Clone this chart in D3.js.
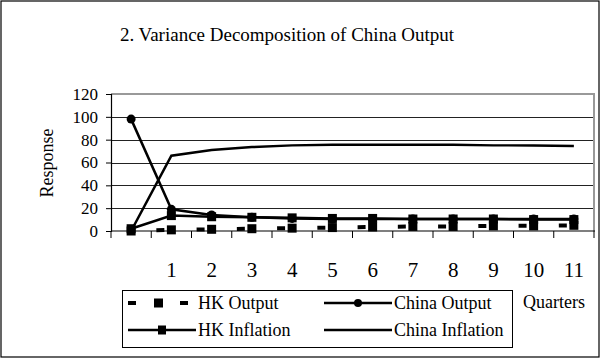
<!DOCTYPE html>
<html>
<head>
<meta charset="utf-8">
<script src="https://cdn.jsdelivr.net/npm/d3@7"></script>
<style>
  body { margin: 0; background: #fff; }
  svg { display: block; font-family: "Liberation Serif", "Times New Roman", serif; }
</style>
</head>
<body>
<div id="chart"></div>
<script>
// quarters (first category has no label)
const quarters = ['', '1', '2', '3', '4', '5', '6', '7', '8', '9', '10', '11'];
const yTicks = [0, 20, 40, 60, 80, 100, 120];

const hkOutput = [0, 1, 1.5, 2, 2.5, 3, 3.5, 4, 4, 4.5, 4.5, 5];
const chinaOutput = [98, 19, 14, 12, 11, 10.5, 10.5, 10.5, 10.5, 10.5, 10.5, 10.5];
const hkInflation = [2, 13.5, 12.5, 12, 11.5, 11, 11, 10.5, 10.5, 10.5, 10, 10];
const chinaInflation = [0, 66, 71, 73.5, 75, 75.5, 75.5, 75.5, 75.5, 75, 75, 74.5];

const W = 601, H = 358;
const plot = { left: 111, right: 594, top: 94, bottom: 231 };

const svg = d3.select('#chart').append('svg')
    .attr('width', W)
    .attr('height', H);

// outer frame
svg.append('rect')
    .attr('x', 1).attr('y', 1)
    .attr('width', W - 3).attr('height', H - 2)
    .attr('fill', '#fff')
    .attr('stroke', '#000')
    .attr('stroke-width', 1.2);

svg.append('text')
    .attr('x', 287).attr('y', 41)
    .attr('text-anchor', 'middle')
    .attr('font-size', '19px')
    .text('2. Variance Decomposition of China Output');

const x = d3.scaleBand()
    .domain(quarters.map((d, i) => i))
    .range([plot.left, plot.right]);

const y = d3.scaleLinear()
    .domain([0, 120])
    .range([plot.bottom, plot.top]);

const cx = i => x(i) + x.bandwidth() / 2;

// gridlines
svg.append('g')
    .selectAll('line')
    .data(yTicks.filter(d => d > 0 && d < 120))
    .join('line')
    .attr('x1', plot.left).attr('x2', plot.right)
    .attr('y1', d => Math.round(y(d)) + 0.5).attr('y2', d => Math.round(y(d)) + 0.5)
    .attr('stroke', '#222')
    .attr('stroke-width', 1);

// gray plot border (top and right)
svg.append('path')
    .attr('d', `M${plot.left},${plot.top} H${plot.right} V${plot.bottom}`)
    .attr('fill', 'none')
    .attr('stroke', '#999')
    .attr('stroke-width', 2);

// y axis
const yAxis = svg.append('g')
    .attr('transform', `translate(${plot.left},0)`)
    .call(d3.axisLeft(y).tickValues(yTicks).tickSize(5).tickPadding(8));
yAxis.select('.domain').attr('stroke', '#000').attr('stroke-width', 1.2);
yAxis.selectAll('.tick line').attr('stroke', '#000');
yAxis.selectAll('.tick text')
    .attr('font-family', '"Liberation Serif", serif')
    .attr('font-size', '17px')
    .attr('fill', '#000');

// x axis: ticks between categories
const xAxis = svg.append('g');
xAxis.append('line')
    .attr('x1', plot.left).attr('x2', plot.right + 1)
    .attr('y1', plot.bottom).attr('y2', plot.bottom)
    .attr('stroke', '#000').attr('stroke-width', 1.2);
xAxis.selectAll('line.tk')
    .data(d3.range(quarters.length + 1))
    .join('line')
    .attr('class', 'tk')
    .attr('x1', i => i < quarters.length ? x(i) : plot.right)
    .attr('x2', i => i < quarters.length ? x(i) : plot.right)
    .attr('y1', plot.bottom).attr('y2', plot.bottom + 7)
    .attr('stroke', '#000');
xAxis.selectAll('text')
    .data(quarters)
    .join('text')
    .attr('x', (d, i) => cx(i))
    .attr('y', 277)
    .attr('text-anchor', 'middle')
    .attr('font-size', '21px')
    .text(d => d);

svg.append('text')
    .attr('transform', 'translate(53,163) rotate(-90)')
    .attr('text-anchor', 'middle')
    .attr('font-size', '18px')
    .text('Response');

svg.append('text')
    .attr('x', 523).attr('y', 308)
    .attr('font-size', '18px')
    .text('Quarters');

// series
const line = d3.line().x((d, i) => cx(i)).y(d => y(d));
const g = svg.append('g');

g.append('path').datum(chinaInflation)
    .attr('d', line).attr('fill', 'none')
    .attr('stroke', '#000').attr('stroke-width', 2.5);

g.append('path').datum(chinaOutput)
    .attr('d', line).attr('fill', 'none')
    .attr('stroke', '#000').attr('stroke-width', 2.5);
g.selectAll('circle.co').data(chinaOutput).join('circle')
    .attr('class', 'co')
    .attr('cx', (d, i) => cx(i)).attr('cy', d => y(d))
    .attr('r', 4.5).attr('fill', '#000');

g.append('path').datum(hkInflation)
    .attr('d', line).attr('fill', 'none')
    .attr('stroke', '#000').attr('stroke-width', 2.5);
g.selectAll('rect.hi').data(hkInflation).join('rect')
    .attr('class', 'hi')
    .attr('x', (d, i) => cx(i) - 4.5).attr('y', d => y(d) - 4.5)
    .attr('width', 9).attr('height', 9).attr('fill', '#000');

const step = x.bandwidth();
g.append('path').datum(hkOutput)
    .attr('d', line).attr('fill', 'none')
    .attr('stroke', '#000').attr('stroke-width', 4)
    .attr('stroke-dasharray', `8,${step - 8}`)
    .attr('stroke-dashoffset', 15);
g.selectAll('rect.ho').data(hkOutput).join('rect')
    .attr('class', 'ho')
    .attr('x', (d, i) => cx(i) - 4.5).attr('y', d => y(d) - 4.5)
    .attr('width', 9).attr('height', 9).attr('fill', '#000');

// legend
const legend = svg.append('g');
legend.append('rect')
    .attr('x', 122.5).attr('y', 290.5)
    .attr('width', 390).attr('height', 57)
    .attr('fill', '#fff').attr('stroke', '#000');

const items = [
    { name: 'HK Output', col: 0, row: 0, type: 'dash' },
    { name: 'China Output', col: 1, row: 0, type: 'circle' },
    { name: 'HK Inflation', col: 0, row: 1, type: 'square' },
    { name: 'China Inflation', col: 1, row: 1, type: 'plain' }
];
items.forEach(it => {
    const x0 = it.col === 0 ? 128 : 324;
    const yy = it.row === 0 ? 303 : 330;
    const mid = x0 + 34;
    if (it.type === 'dash') {
        [[x0, x0 + 8], [x0 + 52, x0 + 60]].forEach(([a, b]) => {
            legend.append('line').attr('x1', a).attr('x2', b)
                .attr('y1', yy).attr('y2', yy)
                .attr('stroke', '#000').attr('stroke-width', 4);
        });
        legend.append('rect').attr('x', x0 + 26).attr('y', yy - 4.5)
            .attr('width', 9).attr('height', 9).attr('fill', '#000');
    } else {
        legend.append('line').attr('x1', x0).attr('x2', x0 + 68)
            .attr('y1', yy).attr('y2', yy)
            .attr('stroke', '#000').attr('stroke-width', 2.5);
        if (it.type === 'circle') {
            legend.append('circle').attr('cx', mid).attr('cy', yy)
                .attr('r', 4).attr('fill', '#000');
        }
        if (it.type === 'square') {
            legend.append('rect').attr('x', mid - 4).attr('y', yy - 4.5)
                .attr('width', 8).attr('height', 9).attr('fill', '#000');
        }
    }
    legend.append('text')
        .attr('x', x0 + 70).attr('y', yy + 6)
        .attr('font-size', '18px')
        .text(it.name);
});
</script>
</body>
</html>
